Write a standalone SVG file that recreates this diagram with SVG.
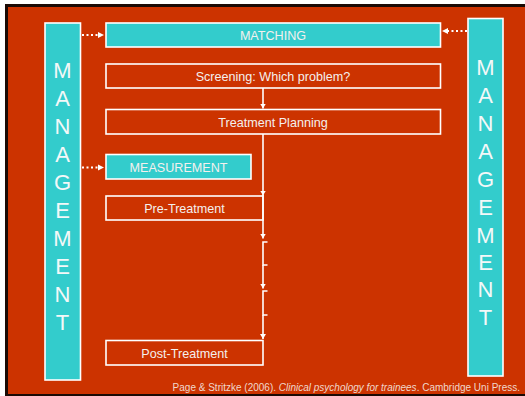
<svg xmlns="http://www.w3.org/2000/svg" width="525" height="396" viewBox="0 0 525 396">
<defs>
<style>
.cy{fill:#33CCCC;stroke:#ffffff;stroke-width:1.6}
.rd{fill:#CC3300;stroke:#ffffff;stroke-width:1.6}
.t{font-family:"Liberation Sans",Arial,sans-serif;font-size:12.6px;fill:#f4f0ee;text-anchor:middle}
.big{font-family:"Liberation Sans",Arial,sans-serif;font-size:22px;fill:#f4f8f8;text-anchor:middle}
.ln{stroke:#ffffff;stroke-width:1.6;fill:none}
.dot{stroke:#ffffff;stroke-width:2.2;fill:none;stroke-dasharray:2 2.5}
</style>
<marker id="ah" markerWidth="6" markerHeight="6" refX="5" refY="3" orient="auto" markerUnits="userSpaceOnUse">
<path d="M0,0 L5,3 L0,6 z" fill="#ffffff"/>
</marker>
</defs>
<rect x="0" y="0" width="525" height="396" fill="#ffffff"/>
<rect x="5" y="4" width="520" height="392" fill="#1a0a05"/>
<rect x="8" y="7" width="517" height="387" fill="#CC3300"/>

<g id="management-left">
<rect class="cy" x="45" y="23" width="35.5" height="357"/>
<text class="big" x="62.5" y="78">M</text>
<text class="big" x="62.5" y="106">A</text>
<text class="big" x="62.5" y="134">N</text>
<text class="big" x="62.5" y="162">A</text>
<text class="big" x="62.5" y="190">G</text>
<text class="big" x="62.5" y="218">E</text>
<text class="big" x="62.5" y="246">M</text>
<text class="big" x="62.5" y="274">E</text>
<text class="big" x="62.5" y="302">N</text>
<text class="big" x="62.5" y="330">T</text>
</g>
<g id="management-right">
<rect class="cy" x="468" y="18.5" width="35" height="357.5"/>
<text class="big" x="485.5" y="75">M</text>
<text class="big" x="485.5" y="103">A</text>
<text class="big" x="485.5" y="131">N</text>
<text class="big" x="485.5" y="159">A</text>
<text class="big" x="485.5" y="187">G</text>
<text class="big" x="485.5" y="215">E</text>
<text class="big" x="485.5" y="243">M</text>
<text class="big" x="485.5" y="270">E</text>
<text class="big" x="485.5" y="297">N</text>
<text class="big" x="485.5" y="325">T</text>
</g>
<g id="matching">
<rect class="cy" x="106" y="23" width="334.5" height="24"/>
<text class="t" x="273" y="39.5">MATCHING</text>
</g>
<g id="screening">
<rect class="rd" x="106" y="64" width="334.5" height="24"/>
<text class="t" x="273" y="80.5">Screening: Which problem?</text>
</g>
<g id="planning">
<rect class="rd" x="106" y="109.5" width="334.5" height="24.5"/>
<text class="t" x="273" y="126.5">Treatment Planning</text>
</g>
<g id="measurement">
<rect class="cy" x="106" y="154.5" width="145" height="24.5"/>
<text class="t" x="178.5" y="171.5">MEASUREMENT</text>
</g>
<g id="pre-treatment">
<rect class="rd" x="106" y="196" width="157" height="24"/>
<text class="t" x="184.5" y="212.5">Pre-Treatment</text>
</g>
<g id="post-treatment">
<rect class="rd" x="106" y="340.5" width="157" height="24.5"/>
<text class="t" x="184.5" y="357.5">Post-Treatment</text>
</g>

<g id="connectors">
<line class="ln" x1="263" y1="88" x2="263" y2="108.5" marker-end="url(#ah)"/>
<line class="ln" x1="263" y1="134" x2="263" y2="195.5" marker-end="url(#ah)"/>
<line class="ln" x1="263" y1="195" x2="263" y2="238.5" marker-end="url(#ah)"/>
<path class="ln" d="M267.5,242 H263 V265 H267.5"/>
<line class="ln" x1="263" y1="265" x2="263" y2="288.5" marker-end="url(#ah)"/>
<path class="ln" d="M267.5,291 H263 V315 H267.5"/>
<line class="ln" x1="263" y1="315" x2="263" y2="339" marker-end="url(#ah)"/>
<line class="dot" x1="82" y1="35" x2="98" y2="35"/>
<path d="M98,32 L104,35 L98,38 z" fill="#ffffff"/>
<line class="dot" x1="467" y1="31" x2="448" y2="31"/>
<path d="M448,28 L442,31 L448,34 z" fill="#ffffff"/>
<line class="dot" x1="82" y1="167.5" x2="98" y2="167.5"/>
<path d="M98,164.5 L104,167.5 L98,170.5 z" fill="#ffffff"/>
</g>

<text x="520" y="391" font-family="'Liberation Sans',Arial,sans-serif" font-size="10" fill="#f0d8cc" text-anchor="end">Page &amp; Stritzke (2006). <tspan font-style="italic">Clinical psychology for trainees</tspan>. Cambridge Uni Press.</text>
</svg>
